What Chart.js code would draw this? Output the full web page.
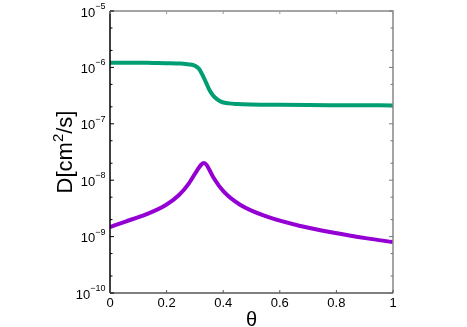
<!DOCTYPE html>
<html>
<head>
<meta charset="utf-8">
<script src="https://cdn.jsdelivr.net/npm/chart.js@4/dist/chart.umd.min.js"></script>
<style>
  html, body { margin: 0; padding: 0; background: #fff; }
  #wrap { width: 467px; height: 327px; }
</style>
</head>
<body>
<div id="wrap"><canvas id="chart"></canvas></div>
<script>
// theta values and D values
const greenTheta = [0, 0.05, 0.1, 0.15, 0.2, 0.25, 0.28, 0.3, 0.315, 0.33, 0.34, 0.35, 0.36, 0.37, 0.39, 0.42, 0.45, 0.5, 0.6, 0.7, 0.8, 0.9, 1.0];
const greenD = [1.21e-6, 1.21e-6, 1.21e-6, 1.2e-6, 1.19e-6, 1.17e-6, 1.13e-6, 1.07e-6, 9.4e-7, 6.8e-7, 5.3e-7, 4.1e-7, 3.4e-7, 2.95e-7, 2.5e-7, 2.3e-7, 2.24e-7, 2.2e-7, 2.17e-7, 2.15e-7, 2.14e-7, 2.13e-7, 2.12e-7];

const purpleTheta = [0, 0.055, 0.125, 0.196, 0.243, 0.279, 0.308, 0.322, 0.332, 0.342, 0.352, 0.367, 0.402, 0.461, 0.555, 0.673, 0.791, 0.909, 1.0];
const purpleD = [1.48e-9, 1.85e-9, 2.45e-9, 3.6e-9, 5.4e-9, 8.8e-9, 1.5e-8, 1.88e-8, 2.02e-8, 1.85e-8, 1.5e-8, 1.08e-8, 6.25e-9, 3.63e-9, 2.25e-9, 1.54e-9, 1.17e-9, 9.3e-10, 8.0e-10];

const xTicks = [0, 0.2, 0.4, 0.6, 0.8, 1];
const yExps = [-10, -9, -8, -7, -6, -5];
const yMinorMult = [2, 5];

const toPoints = (xs, ys) => xs.map((x, i) => ({ x: x, y: ys[i] }));

const framePlugin = {
    id: 'frame',
    afterDraw: (chart) => {
        const ctx = chart.ctx;
        const xA = chart.scales.x;
        const yA = chart.scales.y;
        const a = chart.chartArea;
        ctx.save();

        // frame
        ctx.lineWidth = 1.5;
        ctx.strokeStyle = '#888';
        ctx.beginPath();
        ctx.moveTo(a.left, a.top); ctx.lineTo(a.right, a.top); ctx.lineTo(a.right, a.bottom);
        ctx.stroke();
        ctx.strokeStyle = '#555';
        ctx.beginPath();
        ctx.moveTo(a.left, a.bottom); ctx.lineTo(a.right, a.bottom);
        ctx.stroke();
        ctx.strokeStyle = '#000';
        ctx.beginPath();
        ctx.moveTo(a.left, a.top); ctx.lineTo(a.left, a.bottom);
        ctx.stroke();

        // y ticks, both sides, pointing in
        ctx.lineWidth = 1;
        const yTick = (v, len) => {
            const y = yA.getPixelForValue(v);
            ctx.strokeStyle = '#000';
            ctx.beginPath(); ctx.moveTo(a.left, y); ctx.lineTo(a.left + len, y); ctx.stroke();
            ctx.strokeStyle = '#777';
            ctx.beginPath(); ctx.moveTo(a.right, y); ctx.lineTo(a.right - len, y); ctx.stroke();
        };
        yExps.forEach((e, i) => {
            yTick(Math.pow(10, e), 4);
            if (i < yExps.length - 1) yMinorMult.forEach(m => yTick(m * Math.pow(10, e), 2.5));
        });
        // x ticks, both sides
        xTicks.forEach(t => {
            const x = xA.getPixelForValue(t);
            ctx.strokeStyle = '#555';
            ctx.beginPath(); ctx.moveTo(x, a.bottom); ctx.lineTo(x, a.bottom - 3); ctx.stroke();
            ctx.strokeStyle = '#999';
            ctx.beginPath(); ctx.moveTo(x, a.top); ctx.lineTo(x, a.top + 3); ctx.stroke();
        });

        // y labels 10^n
        ctx.fillStyle = '#000';
        ctx.textBaseline = 'alphabetic';
        yExps.forEach(e => {
            const y = yA.getPixelForValue(Math.pow(10, e));
            const expText = '\u2212' + Math.abs(e);
            ctx.font = '9px "Liberation Sans", Arial, sans-serif';
            const ew = ctx.measureText(expText).width;
            const right = a.left - 4.5;
            ctx.textAlign = 'left';
            ctx.fillText(expText, right - ew, y - 2);
            ctx.font = '13px "Liberation Sans", Arial, sans-serif';
            ctx.textAlign = 'right';
            ctx.fillText('10', right - ew, y + 5.5);
        });

        // y title D[cm^2/s], rotated
        const cy = (a.top + a.bottom) / 2;
        ctx.translate(72, cy);
        ctx.rotate(-Math.PI / 2);
        const big = '22px "Liberation Sans", Arial, sans-serif';
        const small = '15px "Liberation Sans", Arial, sans-serif';
        ctx.font = big; const w1 = ctx.measureText('D[cm').width; const w3 = ctx.measureText('/s]').width;
        ctx.font = small; const w2 = ctx.measureText('2').width;
        let x0 = -(w1 + w2 + w3) / 2;
        ctx.textAlign = 'left';
        ctx.font = big; ctx.fillText('D[cm', x0, 0);
        ctx.font = small; ctx.fillText('2', x0 + w1, -9);
        ctx.font = big; ctx.fillText('/s]', x0 + w1 + w2, 0);
        ctx.restore();

        // x title theta
        ctx.save();
        ctx.fillStyle = '#000';
        ctx.font = '20px "Liberation Sans", Arial, sans-serif';
        ctx.textAlign = 'center';
        ctx.textBaseline = 'alphabetic';
        ctx.fillText('\u03b8', (a.left + a.right) / 2, 326);
        ctx.restore();
    }
};

new Chart(document.getElementById('chart').getContext('2d'), {
    type: 'line',
    data: {
        datasets: [
            { label: 'green', data: toPoints(greenTheta, greenD), borderColor: '#009e73', borderWidth: 4, pointRadius: 0, fill: false, cubicInterpolationMode: 'monotone' },
            { label: 'purple', data: toPoints(purpleTheta, purpleD), borderColor: '#9400d3', borderWidth: 4, pointRadius: 0, fill: false, cubicInterpolationMode: 'monotone' }
        ]
    },
    options: {
        responsive: true, maintainAspectRatio: false, animation: false,
        layout: { padding: { top: 11, right: 74, bottom: 0, left: 0 } },
        plugins: { legend: { display: false }, tooltip: { enabled: false } },
        scales: {
            x: {
                type: 'linear', min: 0, max: 1,
                grid: { display: false, drawTicks: false },
                border: { display: false },
                ticks: {
                    stepSize: 0.2, color: '#000', padding: 3,
                    font: { size: 13, family: '"Liberation Sans", Arial, sans-serif' },
                    callback: (v) => String(Number(v.toFixed(1)))
                },
                afterFit: (s) => { s.height = 34; }
            },
            y: {
                type: 'logarithmic', min: 1e-10, max: 1e-5,
                grid: { display: false, drawTicks: false },
                border: { display: false },
                ticks: { display: false },
                afterFit: (s) => { s.width = 110; }
            }
        }
    },
    plugins: [framePlugin]
});
</script>
</body>
</html>
